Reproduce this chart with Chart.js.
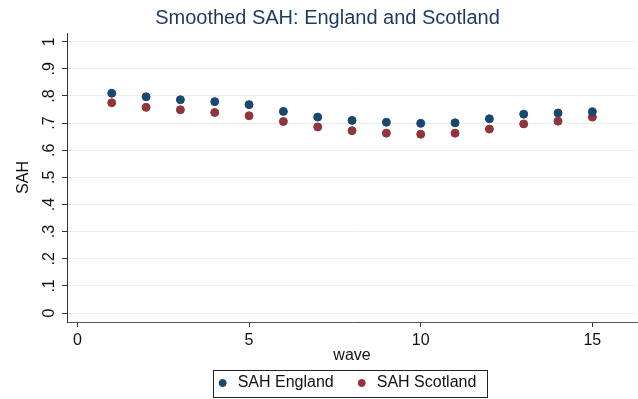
<!DOCTYPE html>
<html>
<head>
<meta charset="utf-8">
<script src="https://cdn.jsdelivr.net/npm/chart.js@4/dist/chart.umd.min.js"></script>
<style>
  html, body { margin: 0; padding: 0; background: #fff; }
  #wrap { width: 638px; height: 399px; }
</style>
</head>
<body>
<div id="wrap"><canvas id="chart" width="638" height="399"></canvas></div>
<script>
const waves = [1, 2, 3, 4, 5, 6, 7, 8, 9, 10, 11, 12, 13, 14, 15];
const sahEngland = [0.810, 0.797, 0.786, 0.779, 0.768, 0.743, 0.722, 0.710, 0.703, 0.699, 0.701, 0.716, 0.733, 0.737, 0.742];
const sahScotland = [0.775, 0.758, 0.749, 0.739, 0.727, 0.706, 0.686, 0.672, 0.663, 0.659, 0.663, 0.678, 0.697, 0.707, 0.722];
const xTicks = [0, 5, 10, 15];
const yTicks = [0, 0.1, 0.2, 0.3, 0.4, 0.5, 0.6, 0.7, 0.8, 0.9, 1];
const yTickLabels = ["0", ".1", ".2", ".3", ".4", ".5", ".6", ".7", ".8", ".9", "1"];

Chart.defaults.font.family = "'Liberation Sans', Arial, sans-serif";
Chart.defaults.color = "#111";

const toPoints = (vals) => vals.map((v, i) => ({ x: waves[i], y: v }));

// legend: box border, centred on plot area; title nudged like stata
const legendBox = {
  id: "legendBox",
  beforeLayout(chart) {
    const lg = chart.legend;
    if (lg && !lg._patched) {
      const fit = lg.fit.bind(lg);
      lg.fit = function () { fit(); this.height = 32; };
      lg._patched = true;
    }
  },
  afterLayout(chart) {
    const lg = chart.legend;
    const ca = chart.chartArea;
    const dx = (ca.left + ca.right) / 2 - (lg.left + lg.right) / 2 - 6;
    lg.left += dx;
    lg.right += dx;
    lg.top = 354;
    const tb = chart.titleBlock;
    tb.left += 9;
    tb.right += 9;
  },
  afterDraw(chart) {
    const hb = chart.legend.legendHitBoxes;
    if (!hb || !hb.length) return;
    const l = Math.min(...hb.map(h => h.left));
    const r = Math.max(...hb.map(h => h.left + h.width));
    const t = hb[0].top;
    const ctx = chart.ctx;
    ctx.save();
    ctx.strokeStyle = "#222";
    ctx.lineWidth = 1;
    ctx.strokeRect(Math.round(l - 3) + 0.5, Math.round(t - 5) + 0.5, Math.round(r - l + 13), 27);
    ctx.restore();
  }
};

new Chart(document.getElementById("chart").getContext("2d"), {
  type: "scatter",
  data: {
    datasets: [
      {
        label: "SAH England",
        data: toPoints(sahEngland),
        backgroundColor: "#1a476f",
        borderColor: "#1a476f",
        pointRadius: 4,
        pointHoverRadius: 4
      },
      {
        label: "SAH Scotland",
        data: toPoints(sahScotland),
        backgroundColor: "#90353b",
        borderColor: "#90353b",
        pointRadius: 4,
        pointHoverRadius: 4
      }
    ]
  },
  options: {
    responsive: false,
    animation: false,
    layout: { autoPadding: false, padding: { left: 0, right: 1, top: 0, bottom: 0 } },
    plugins: {
      title: {
        display: true,
        text: "Smoothed SAH: England and Scotland",
        color: "#1e3a5f",
        font: { size: 20, weight: "normal" },
        padding: { top: 6, bottom: 3 }
      },
      legend: {
        position: "bottom",
        labels: {
          usePointStyle: true,
          pointStyle: "circle",
          boxWidth: 14,
          boxHeight: 5,
          padding: 21,
          font: { size: 16 },
          color: "#111"
        }
      },
      tooltip: { enabled: false }
    },
    scales: {
      x: {
        type: "linear",
        min: -0.303,
        max: 16.3,
        afterBuildTicks: (s) => { s.ticks = xTicks.map(v => ({ value: v })); },
        afterFit: (s) => { s.height = 45; s.paddingLeft = 0; s.paddingRight = 0; },
        ticks: { font: { size: 16 }, padding: 4, color: "#111" },
        grid: { color: "rgba(0,0,0,0)", tickColor: "#333", tickLength: 5 },
        border: { color: "#555", width: 1 },
        title: { display: true, text: "wave", font: { size: 16 }, color: "#111", padding: { top: 4, bottom: 2 } }
      },
      y: {
        type: "linear",
        min: -0.033,
        max: 1.032,
        afterBuildTicks: (s) => { s.ticks = yTicks.map(v => ({ value: v })); },
        afterFit: (s) => { s.width = 67; s.paddingTop = 0; s.paddingBottom = 0; },
        ticks: {
          font: { size: 16 },
          color: "#111",
          minRotation: 90,
          maxRotation: 90,
          crossAlign: "center",
          padding: 6,
          callback: (v) => {
            const i = yTicks.findIndex(t => Math.abs(t - v) < 1e-6);
            return i >= 0 ? yTickLabels[i] : "";
          }
        },
        grid: { color: "#e8f0f2", tickColor: "#333", tickLength: 5 },
        border: { color: "#333", width: 1 },
        title: { display: true, text: "SAH", font: { size: 16 }, color: "#111", padding: { top: 14, bottom: 0 } }
      }
    }
  },
  plugins: [legendBox]
});
</script>
</body>
</html>
